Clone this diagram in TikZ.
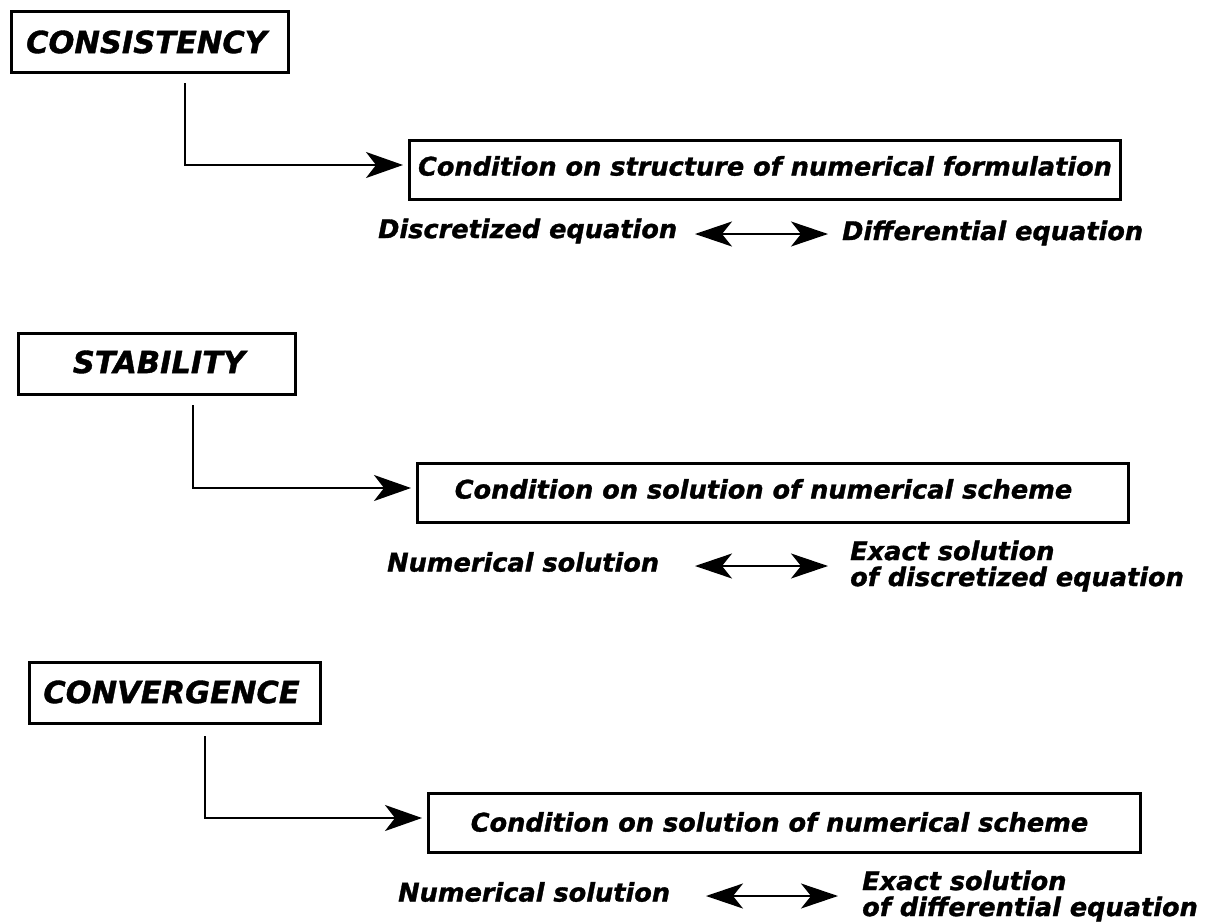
\documentclass[tikz,border=0pt]{standalone}
\usepackage{fontspec}
\setmainfont{DejaVu Sans}[BoldItalicFeatures={FakeBold=1.2}]
\usetikzlibrary{arrows.meta}
\tikzset{
  frame/.style={draw, line width=3.4pt, outer sep=0pt, anchor=north west, inner sep=0pt},
  titletext/.style={font=\fontsize{30.5}{33}\selectfont\bfseries\itshape, inner sep=0pt},
  condtext/.style={font=\fontsize{25.6}{28}\selectfont\bfseries\itshape, inner sep=0pt},
  lbl/.style={font=\fontsize{25.6}{26}\selectfont\bfseries\itshape, anchor=west, inner sep=0pt, align=left},
  link/.style={line width=1.8pt, -{Stealth[length=37pt,width=26pt,inset=10pt]}},
  both/.style={line width=1.8pt, {Stealth[length=37pt,width=25pt,inset=10pt]}-{Stealth[length=37pt,width=25pt,inset=10pt]}},
}
\begin{document}
\begin{tikzpicture}[x=1pt,y=-1pt]
\useasboundingbox (0,0) rectangle (1208,924);

% Consistency
\node[frame, minimum width=277pt, minimum height=61pt] (t1) at (11.7,11.7) {};
\node[titletext] (n1) at (146.5,42) {CONSISTENCY};
\node[frame, minimum width=711pt, minimum height=59pt] (c1) at (409.7,140.7) {};
\node[condtext] (m1) at (765,166) {Condition on structure of numerical formulation};
\coordinate (s1) at (185,83);
\coordinate (e1) at (403,165);
\draw[link] (s1) |- (e1);
\node[lbl] (l1) at (378,231) {Discretized equation};
\node[lbl] (r1) at (842,233) {Differential equation};
\coordinate (a1) at (695,234);
\coordinate (b1) at (828,234);
\draw[both] (a1) -- (b1);

% Stability
\node[frame, minimum width=277pt, minimum height=61pt] (t2) at (18.7,333.7) {};
\node[titletext] (n2) at (159,362) {STABILITY};
\node[frame, minimum width=711pt, minimum height=59pt] (c2) at (417.7,463.7) {};
\node[condtext] (m2) at (763.5,489) {Condition on solution of numerical scheme};
\coordinate (s2) at (193,405);
\coordinate (e2) at (411,488);
\draw[link] (s2) |- (e2);
\node[lbl] (l2) at (387,562) {Numerical solution};
\node[lbl] (r2) at (850,566) {Exact solution\\of discretized equation};
\coordinate (a2) at (695,566);
\coordinate (b2) at (828,566);
\draw[both] (a2) -- (b2);

% Convergence
\node[frame, minimum width=291pt, minimum height=61pt] (t3) at (29.7,662.7) {};
\node[titletext] (n3) at (171.5,692) {CONVERGENCE};
\node[frame, minimum width=712pt, minimum height=59pt] (c3) at (428.7,793.7) {};
\node[condtext] (m3) at (779.5,822) {Condition on solution of numerical scheme};
\coordinate (s3) at (205,736);
\coordinate (e3) at (422,818);
\draw[link] (s3) |- (e3);
\node[lbl] (l3) at (398,892) {Numerical solution};
\node[lbl] (r3) at (862,896) {Exact solution\\of differential equation};
\coordinate (a3) at (706,896);
\coordinate (b3) at (838,896);
\draw[both] (a3) -- (b3);
\end{tikzpicture}
\end{document}
